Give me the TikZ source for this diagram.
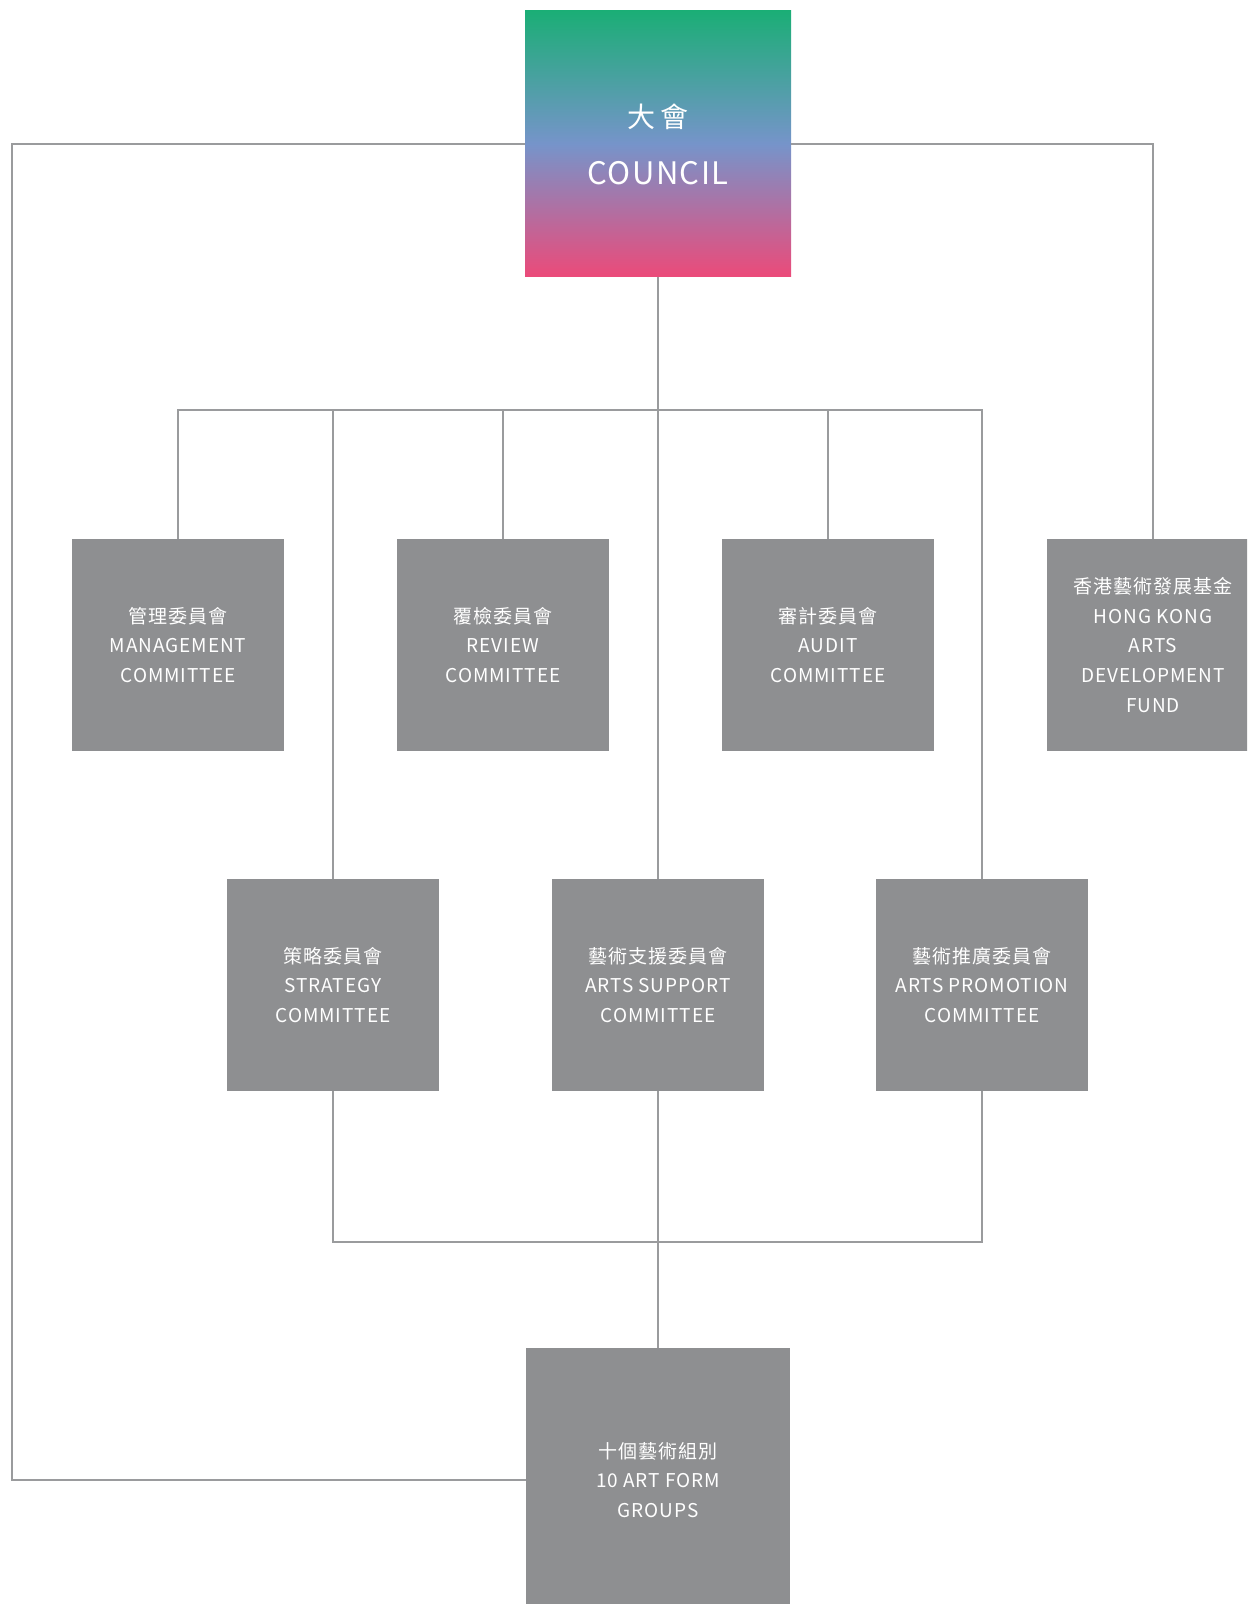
\documentclass[tikz,border=0pt]{standalone}
\usepackage{fontspec}
\setmainfont{Noto Sans CJK TC}[LetterSpace=5]
\definecolor{boxgray}{HTML}{8E8F91}
\definecolor{linegray}{HTML}{9A9B9D}
\definecolor{topgreen}{HTML}{1BAE76}
\definecolor{midblue}{HTML}{7694CA}
\definecolor{botpink}{HTML}{EC4A79}
\begin{document}
\begin{tikzpicture}[x=0.5pt,y=-0.5pt,
  unit/.style={fill=boxgray,text=white,minimum size=106pt,inner sep=0pt,align=center,
    font=\fontsize{9.5}{14.85}\selectfont},
  link/.style={draw=linegray,line width=1.3pt}]
\path[use as bounding box,clip] (0,0) rectangle (1247,1604);
\node[unit,top color=topgreen,bottom color=botpink,middle color=midblue,minimum size=133pt,
  font=\fontsize{15.5}{28.5}\selectfont] (council) at (658,144)
  {{\fontsize{14}{28.5}\selectfont\addfontfeature{LetterSpace=15}大會}\\COUNCIL};
\node[unit] (mgmt) at (178,645) {管理委員會\\MANAGEMENT\\COMMITTEE};
\node[unit] (review) at (503,645) {覆檢委員會\\REVIEW\\COMMITTEE};
\node[unit] (audit) at (828,645) {審計委員會\\AUDIT\\COMMITTEE};
\node[unit] (fund) at (1153,645) {香港藝術發展基金\\HONG KONG\\ARTS\\DEVELOPMENT\\FUND};
\node[unit] (strat) at (333,985) {策略委員會\\STRATEGY\\COMMITTEE};
\node[unit] (support) at (658,985) {藝術支援委員會\\ARTS SUPPORT\\COMMITTEE};
\node[unit] (promo) at (982,985) {藝術推廣委員會\\ARTS PROMOTION\\COMMITTEE};
\node[unit,minimum size=132pt] (groups) at (658,1480) {十個藝術組別\\10 ART FORM\\GROUPS};
\coordinate (topbus) at (658,410);
\coordinate (lowbus) at (658,1242);
\coordinate (leftrail) at (12,144);
\draw[link] (council.south) -- (topbus);
\draw[link] (mgmt.north) |- (topbus -| promo.north) -- (promo.north);
\foreach \n in {review,strat,support,audit}
  \draw[link] (\n.north) -- (\n.north |- topbus);
\draw[link] (strat.south) |- (lowbus -| promo.south) -- (promo.south);
\draw[link] (support.south) -- (groups.north);
\draw[link] (council.west) -- (leftrail) |- (groups.west);
\draw[link] (council.east) -| (fund.north);
\end{tikzpicture}
\end{document}
